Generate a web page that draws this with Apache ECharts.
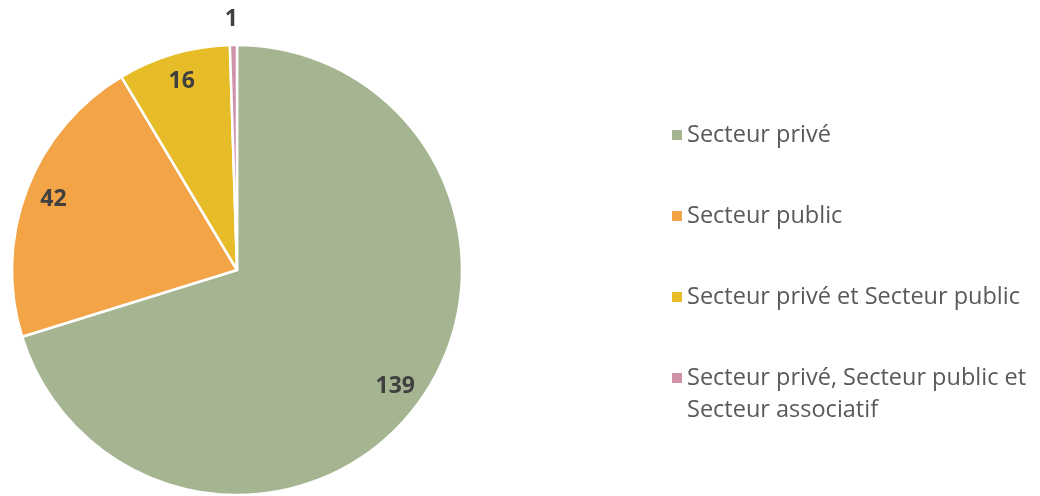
<!DOCTYPE html>
<html>
<head>
<meta charset="utf-8">
<script src="https://cdn.jsdelivr.net/npm/echarts@6/dist/echarts.min.js"></script>
<style>
  html, body { margin: 0; padding: 0; background: #fff; }
  #chart { width: 1040px; height: 496px; }
</style>
</head>
<body>
<div id="chart"></div>
<script>
// Répartition par secteur
const categories = [
  'Secteur privé',
  'Secteur public',
  'Secteur privé et Secteur public',
  'Secteur privé, Secteur public et\nSecteur associatif'
];
const values = [139, 42, 16, 1];
const colors = ['#A5B592', '#F3A447', '#E7BC29', '#D092A7'];

const chart = echarts.init(document.getElementById('chart'));

const center = [237, 270];
const R = 225;

const sliceData = categories.map((name, i) => ({
  name: name,
  value: values[i],
  itemStyle: { color: colors[i] }
}));

// Label ring: transparent slices whose inside labels sit near the outer edge;
// very small slices get their label outside, just above the rim
const labelData = categories.map((name, i) => {
  const d = { name: name, value: values[i] };
  if (values[i] < 5) {
    d.label = {
      position: 'outside',
      distanceToLabelLine: 0,
      offset: [5, 0]
    };
    d.labelLine = { show: false, length: 26, length2: 0 };
  }
  return d;
});

const legendText = {
  fontFamily: 'Open Sans',
  fontSize: 23.5,
  color: '#595959',
  lineHeight: 32
};

// Single-line entries in one column; the two-line entry gets its own legend
// with a marker drawn at the top of a taller icon box, level with line one
const singleLine = categories.filter(c => c.indexOf('\n') < 0);
const multiLine = categories.filter(c => c.indexOf('\n') >= 0);

const legendCommon = {
  orient: 'vertical',
  left: 667,
  itemWidth: 10,
  itemHeight: 10,
  itemGap: 49,
  itemTextGap: 10,
  icon: 'rect',
  itemStyle: { borderWidth: 0 },
  textStyle: legendText
};

chart.setOption({
  animation: false,
  legend: [
    Object.assign({}, legendCommon, {
      top: 114,
      data: singleLine
    }),
    Object.assign({}, legendCommon, {
      top: 357,
      itemHeight: 42,
      icon: 'path://M0,0H10V10H0ZM0,42L0.01,42',
      data: multiLine
    })
  ],
  series: [
    {
      type: 'pie',
      center: center,
      radius: [0, R],
      startAngle: 90,
      clockwise: true,
      silent: true,
      itemStyle: { borderColor: '#ffffff', borderWidth: 2.5 },
      label: { show: false },
      labelLine: { show: false },
      data: sliceData
    },
    {
      type: 'pie',
      center: center,
      radius: [Math.round(R * 0.72), R],
      startAngle: 90,
      clockwise: true,
      silent: true,
      legendHoverLink: false,
      itemStyle: { color: 'rgba(0,0,0,0)', borderWidth: 0 },
      label: {
        show: true,
        position: 'inside',
        formatter: '{c}',
        fontFamily: 'Open Sans',
        fontWeight: 'bold',
        fontSize: 23,
        color: '#404040'
      },
      labelLine: { show: false },
      data: labelData
    }
  ]
});
</script>
</body>
</html>
